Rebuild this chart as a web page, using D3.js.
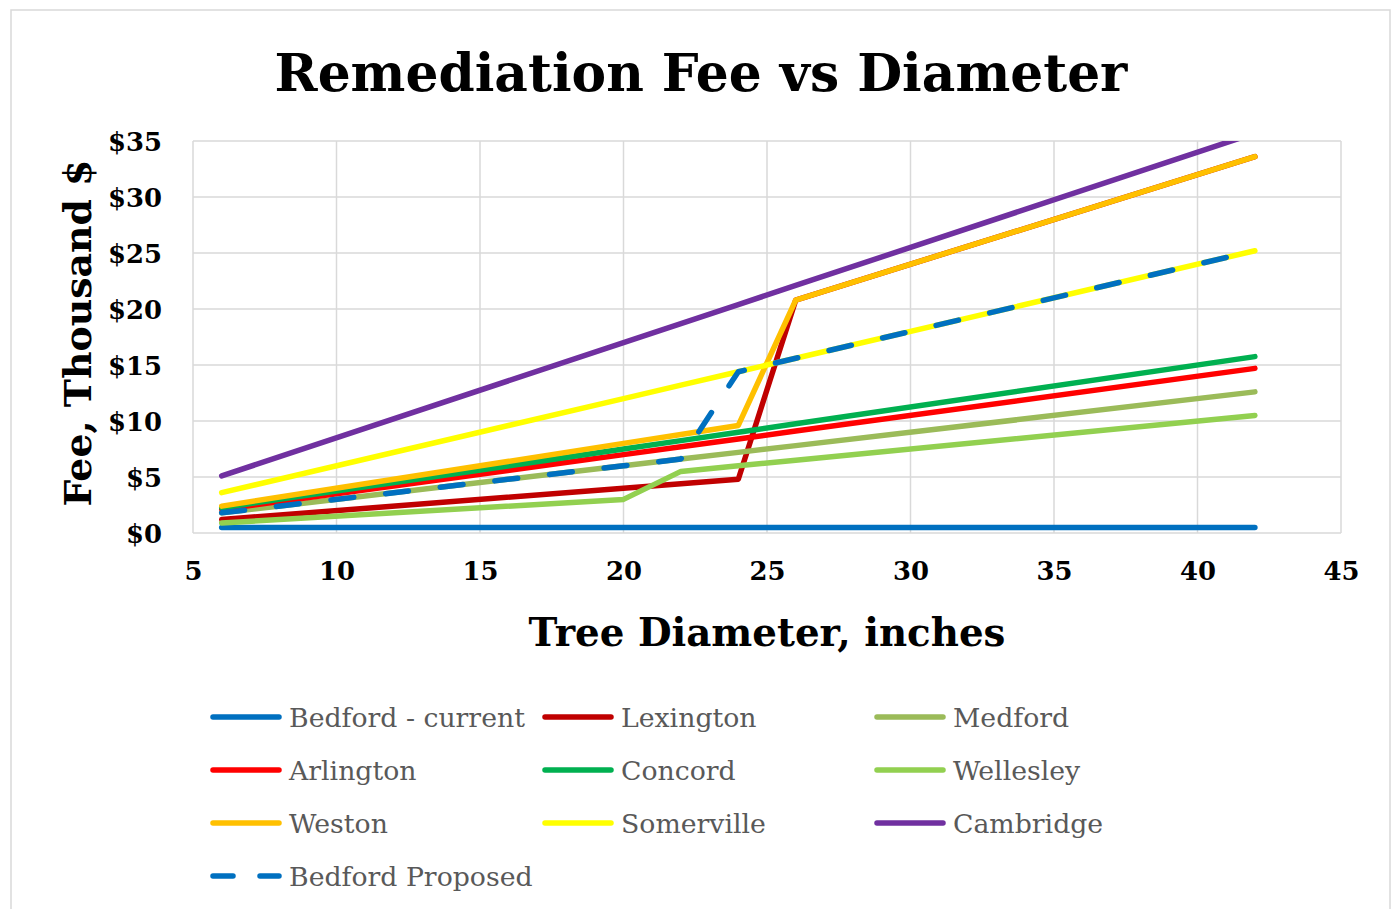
<!DOCTYPE html>
<html>
<head>
<meta charset="utf-8">
<script src="https://cdn.jsdelivr.net/npm/d3@7"></script>
<style>
  body { margin: 0; background: #fff; }
  svg text { font-family: "DejaVu Serif", "Liberation Serif", serif; }
</style>
</head>
<body>
<div id="chart"></div>
<script>
// Tree diameters (inches) where the fee schedules are sampled
const diameters = [6, 20, 22, 24, 26, 42];

// Fee, thousand $
const bedfordCurrent  = [0.5, 0.5, 0.5, 0.5, 0.5, 0.5];
const lexington       = [1.2, 4.0, 4.4, 4.8, 20.8, 33.6];
const medford         = [1.8, 6.0, 6.6, 7.2, 7.8, 12.6];
const arlington       = [2.1, 7.0, 7.7, 8.4, 9.1, 14.7];
const concord         = [2.25, 7.5, 8.25, 9.0, 9.75, 15.75];
const wellesley       = [0.9, 3.0, 5.5, 6.0, 6.5, 10.5];
const weston          = [2.4, 8.0, 8.8, 9.6, 20.8, 33.6];
const somerville      = [3.6, 12.0, 13.2, 14.4, 15.6, 25.2];
const cambridge       = [5.1, 17.0, 18.7, 20.4, 22.1, 35.7];
const bedfordProposed = [1.8, 6.0, 6.6, 14.4, 15.6, 25.2];

const seriesNames = ['Bedford - current', 'Lexington', 'Medford', 'Arlington', 'Concord',
                     'Wellesley', 'Weston', 'Somerville', 'Cambridge', 'Bedford Proposed'];
const seriesValues = [bedfordCurrent, lexington, medford, arlington, concord,
                      wellesley, weston, somerville, cambridge, bedfordProposed];
const seriesColors = ['#0070C0', '#C00000', '#9BBB59', '#FF0000', '#00B050',
                      '#92D050', '#FFC000', '#FFFF00', '#7030A0', '#0070C0'];

const xTicks = [5, 10, 15, 20, 25, 30, 35, 40, 45];
const yTicks = [0, 5, 10, 15, 20, 25, 30, 35];

const W = 1395, H = 909;
const plot = { left: 193, right: 1341, top: 141, bottom: 533 };

const svg = d3.select('#chart').append('svg')
    .attr('width', W)
    .attr('height', H);

// chart frame
svg.append('rect')
    .attr('x', 11).attr('y', 10)
    .attr('width', 1379).attr('height', 920)
    .attr('fill', '#fff')
    .attr('stroke', '#d9d9d9')
    .attr('stroke-width', 1.5);

const x = d3.scaleLinear().domain([5, 45]).range([plot.left, plot.right]);
const y = d3.scaleLinear().domain([0, 35]).range([plot.bottom, plot.top]);

// fit a text element to a width measured on the reference
function fitWidth(sel, target) {
    const node = sel.node();
    const fs = parseFloat(sel.attr('font-size'));
    const w = node.getComputedTextLength();
    sel.attr('font-size', (fs * target / w).toFixed(2));
    return fs * target / w;
}

// gridlines
svg.append('g')
    .selectAll('line')
    .data(yTicks)
    .join('line')
    .attr('x1', plot.left).attr('x2', plot.right)
    .attr('y1', d => y(d)).attr('y2', d => y(d))
    .attr('stroke', '#d9d9d9')
    .attr('stroke-width', 1.5);

svg.append('g')
    .selectAll('line')
    .data(xTicks)
    .join('line')
    .attr('x1', d => x(d)).attr('x2', d => x(d))
    .attr('y1', plot.top).attr('y2', plot.bottom)
    .attr('stroke', '#d9d9d9')
    .attr('stroke-width', 1.5);

// axes (labels only, lines come from the grid)
const yAxis = svg.append('g')
    .attr('transform', `translate(${plot.left},0)`)
    .call(d3.axisLeft(y).tickValues(yTicks).tickSize(0).tickPadding(31).tickFormat(d => '$' + d));
yAxis.select('.domain').remove();
const yLabels = yAxis.selectAll('text')
    .attr('font-family', '"DejaVu Serif", serif')
    .attr('font-weight', 'bold')
    .attr('font-size', 25)
    .attr('fill', '#000')
    .attr('dy', '0.38em');
const yfs = fitWidth(yLabels.filter(d => d === 35), 54);
yLabels.attr('font-size', yfs.toFixed(2));

const xAxis = svg.append('g')
    .attr('transform', `translate(0,${plot.bottom})`)
    .call(d3.axisBottom(x).tickValues(xTicks).tickSize(0).tickPadding(29));
xAxis.select('.domain').remove();
xAxis.selectAll('text')
    .attr('font-family', '"DejaVu Serif", serif')
    .attr('font-weight', 'bold')
    .attr('font-size', yfs.toFixed(2))
    .attr('fill', '#000');

// lines
svg.append('clipPath').attr('id', 'plot-clip')
    .append('rect')
    .attr('x', plot.left).attr('y', plot.top)
    .attr('width', plot.right - plot.left)
    .attr('height', plot.bottom - plot.top);

const line = d3.line()
    .x((d, i) => x(diameters[i]))
    .y(d => y(d));

svg.append('g')
    .attr('clip-path', 'url(#plot-clip)')
    .selectAll('path')
    .data(seriesValues)
    .join('path')
    .attr('d', d => line(d))
    .attr('fill', 'none')
    .attr('stroke', (d, i) => seriesColors[i])
    .attr('stroke-width', 5.5)
    .attr('stroke-linecap', 'round')
    .attr('stroke-linejoin', 'round')
    .attr('stroke-dasharray', (d, i) => seriesNames[i] === 'Bedford Proposed' ? '23,32' : null);

// titles
const title = svg.append('text')
    .attr('x', 701).attr('y', 91)
    .attr('text-anchor', 'middle')
    .attr('font-weight', 'bold')
    .attr('font-size', 50)
    .text('Remediation Fee vs Diameter');
fitWidth(title, 853);

const xTitle = svg.append('text')
    .attr('x', 767).attr('y', 646)
    .attr('text-anchor', 'middle')
    .attr('font-weight', 'bold')
    .attr('font-size', 40)
    .text('Tree Diameter, inches');
fitWidth(xTitle, 477);

const yTitle = svg.append('text')
    .attr('transform', 'translate(91,333) rotate(-90)')
    .attr('text-anchor', 'middle')
    .attr('font-weight', 'bold')
    .attr('font-size', 40)
    .text('Fee, Thousand $');
fitWidth(yTitle, 347);

// legend
const legendCols = [211, 543, 875];
const legendRows = [717, 770, 823, 876];

const legend = svg.append('g')
    .selectAll('g')
    .data(seriesNames)
    .join('g')
    .attr('transform', (d, i) => `translate(${legendCols[i % 3]},${legendRows[Math.floor(i / 3)]})`);

legend.append('line')
    .attr('x1', 2).attr('x2', 68)
    .attr('stroke', (d, i) => seriesColors[i])
    .attr('stroke-width', 5.5)
    .attr('stroke-linecap', 'round')
    .attr('stroke-dasharray', d => d === 'Bedford Proposed' ? '20,27' : null);

const legendText = legend.append('text')
    .attr('x', 78)
    .attr('y', 10)
    .attr('font-size', 26)
    .attr('fill', '#595959')
    .text(d => d);

const lfs = fitWidth(legendText.filter((d, i) => i === 0), 236);
legendText.attr('font-size', lfs.toFixed(2));
</script>
</body>
</html>
